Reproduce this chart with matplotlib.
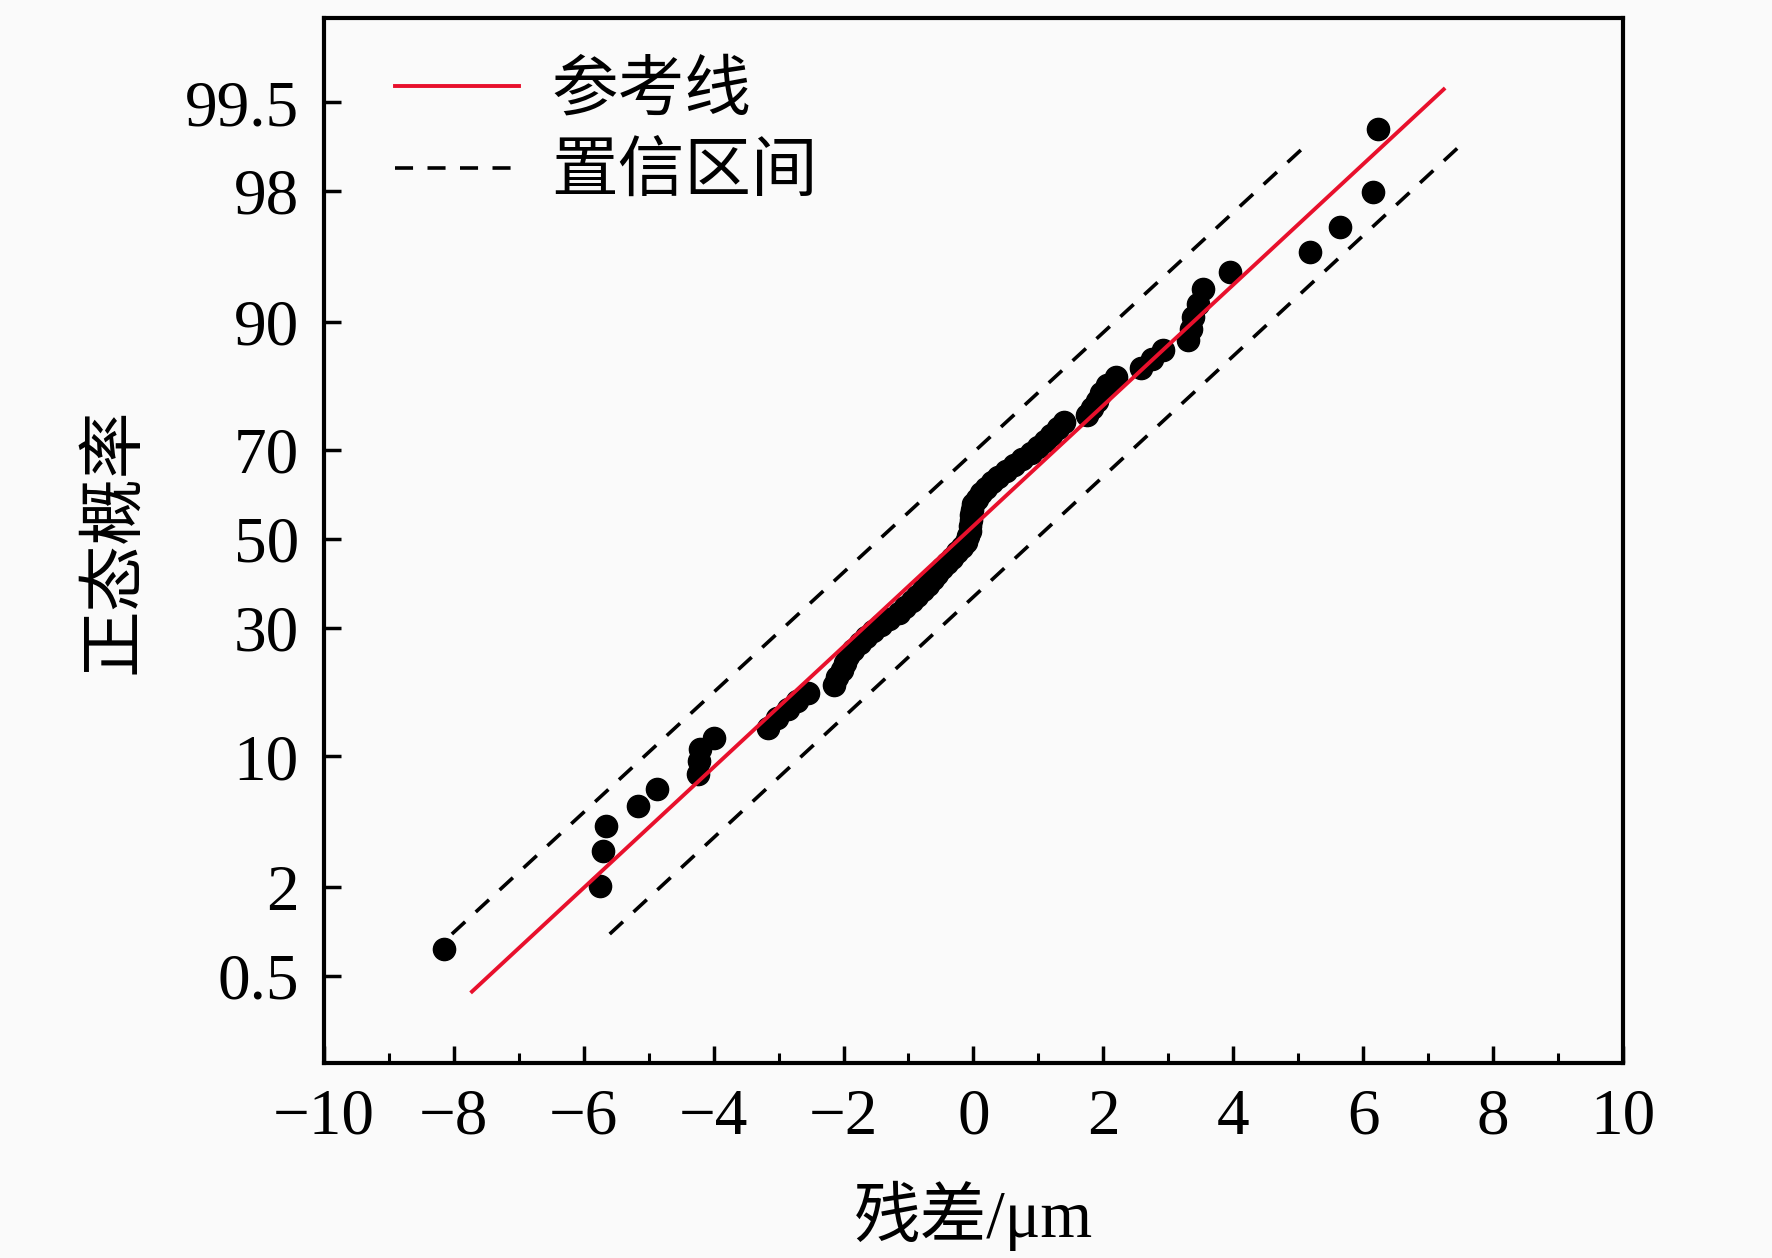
import matplotlib
matplotlib.use('Agg')
import matplotlib.pyplot as plt
from matplotlib.ticker import MultipleLocator, FixedLocator, FixedFormatter
import numpy as np
import math
from statistics import NormalDist

plt.rcParams['font.family'] = ['Liberation Serif', 'Noto Sans CJK SC', 'DejaVu Sans']
plt.rcParams['axes.unicode_minus'] = True

# residuals (um), sorted
residuals = [-8.15, -5.75, -5.70, -5.65, -5.16, -4.87, -4.24, -4.23, -4.21, -4.00,
             -3.16, -3.02, -2.86, -2.72, -2.55, -2.15, -2.10, -2.03, -1.98, -1.93,
             -1.85, -1.75, -1.65, -1.55, -1.42, -1.30, -1.15, -1.05, -0.95, -0.87,
             -0.78, -0.70, -0.63, -0.56, -0.48, -0.41, -0.33, -0.25, -0.17, -0.11,
             -0.08, -0.06, -0.05, -0.04, -0.03, -0.02, 0.00, 0.05, 0.12, 0.20,
             0.28, 0.38, 0.50, 0.62, 0.75, 0.88, 1.00, 1.10, 1.20, 1.30,
             1.40, 1.75, 1.82, 1.90, 1.97, 2.05, 2.20, 2.58, 2.75, 2.92,
             3.30, 3.35, 3.38, 3.45, 3.54, 3.95, 5.18, 5.64, 6.15, 6.23]

# reference line and confidence band ends (x, percent)
ref_x = [-7.72, 7.24]
ref_p = [0.38, 99.60]
upper_x = [-8.03, 5.09]
upper_p = [0.99, 98.96]
lower_x = [-5.60, 7.47]
lower_p = [0.99, 98.96]

prob_ticks = [0.5, 2, 10, 30, 50, 70, 90, 98, 99.5]
prob_labels = ['0.5', '2', '10', '30', '50', '70', '90', '98', '99.5']

# Blom plotting positions for the normal probability plot
n = len(residuals)
ranks = np.arange(1, n + 1)
percent = (ranks - 0.375) / (n + 0.25) * 100

nd = NormalDist()


def _ppf1(p):
    if not math.isfinite(p):
        return np.nan
    q = min(max(p / 100.0, 1e-12), 1 - 1e-12)
    return nd.inv_cdf(q)


def _cdf1(z):
    if not math.isfinite(z):
        return np.nan
    return nd.cdf(z) * 100.0


_ppf = np.vectorize(_ppf1, otypes=[float])
_cdf = np.vectorize(_cdf1, otypes=[float])


def forward(p):
    return _ppf(np.asarray(p, dtype=float))


def inverse(z):
    return _cdf(np.asarray(z, dtype=float))


bg = '#fafafa'
fig = plt.figure(figsize=(17.72, 12.58), dpi=100, facecolor=bg)
ax = fig.add_axes([0.1828, 0.155, 0.7331, 0.8307], facecolor=bg)
ax.set_yscale('function', functions=(forward, inverse))

ax.plot(residuals, percent, 'o', color='black', markersize=16, zorder=2)
ax.plot(ref_x, ref_p, '-', color='#e8102c', linewidth=2.8, zorder=3, label='参考线')
ax.plot(upper_x, upper_p, '--', color='black', linewidth=2.6, dashes=(5, 4), zorder=3,
        label='置信区间')
ax.plot(lower_x, lower_p, '--', color='black', linewidth=2.6, dashes=(5, 4), zorder=3)

ax.set_xlim(-10, 10)
ax.set_ylim(0.0998, 99.894)
ax.xaxis.set_major_locator(MultipleLocator(2))
ax.xaxis.set_minor_locator(MultipleLocator(1))
ax.yaxis.set_major_locator(FixedLocator(prob_ticks))
ax.yaxis.set_major_formatter(FixedFormatter(prob_labels))
ax.yaxis.set_minor_locator(FixedLocator([]))

ax.tick_params(axis='both', which='major', direction='in', length=12, width=2.5,
               labelsize=47, pad=18)
ax.tick_params(axis='x', which='minor', direction='in', length=7, width=2.2)
ax.tick_params(top=False, right=False)
for sp in ax.spines.values():
    sp.set_linewidth(3.0)
    sp.set_color('black')

ax.set_xlabel('残差/μm', fontsize=48, labelpad=24)
ax.set_ylabel('正态概率', fontsize=48, labelpad=28)

ax.legend(loc='upper left', bbox_to_anchor=(0.055, 0.958), frameon=False, fontsize=48,
          handlelength=1.86, handletextpad=0.48, labelspacing=0.3, borderpad=0,
          borderaxespad=0)

fig.savefig('out.png', dpi=100, facecolor=bg)
